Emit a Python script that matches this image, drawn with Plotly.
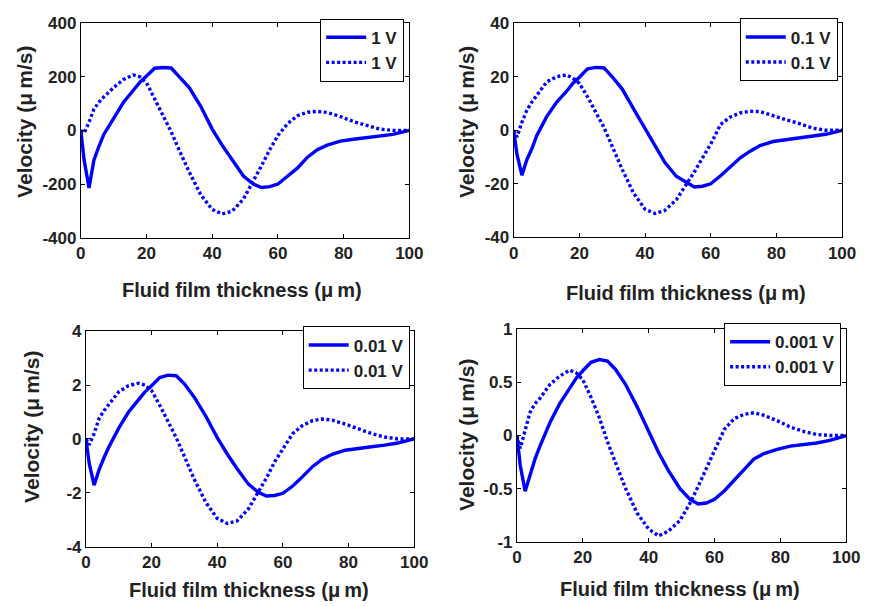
import plotly.graph_objects as go

# ---------------- data ----------------
x_um = [0, 1, 2.5, 4, 5.5, 7, 10, 13, 16, 18, 20, 22.5, 25, 27.5, 30, 33, 36.5, 40, 43, 46,
        49.5, 52.5, 55, 57.5, 60, 63, 66, 69, 72, 75, 79, 83, 87, 91, 95, 100]

solid_1V = [0, -110, -215, -110, -60, -15, 45, 105, 150, 180, 203, 232, 235, 233, 200, 160, 90, 5,
            -55, -110, -170, -200, -213, -210, -200, -170, -140, -100, -72, -55, -40, -33, -28, -22, -15, 0]
dotted_1V = [0, -10, 30, 80, 105, 125, 160, 190, 207, 200, 178, 117, 55, -5, -75, -155, -240, -295,
             -312, -302, -256, -190, -132, -72, -19, 26, 55, 68, 71, 67, 52, 33, 18, 5, 0, 0]

solid_01V = [0, -9, -16.8, -11, -7, -2, 5, 10.4, 14.4, 17.5, 19.8, 23, 23.5, 23.3, 20, 15.5, 8, 0.4,
             -6, -12, -17.2, -19.4, -21.2, -20.9, -20, -17, -13.7, -10.3, -7.8, -5.7, -4.2, -3.5, -2.9, -2.3, -1.5, 0]
dotted_01V = [0, -2.5, 3, 7.5, 10.5, 13, 18, 20, 20.7, 19.5, 17.5, 12.5, 7, 1, -6, -14.5, -23.5, -29.5,
              -31.1, -30, -26, -20.5, -15.6, -10.3, -5.2, 2.2, 5, 6.5, 7.1, 7, 5.3, 3.9, 2.5, 0.8, 0, 0]

solid_001V = [0, -0.9, -1.72, -1.15, -0.7, -0.3, 0.4, 1.0, 1.45, 1.75, 1.98, 2.28, 2.37, 2.35, 2.05, 1.55,
              0.85, 0.05, -0.55, -1.1, -1.68, -1.98, -2.12, -2.1, -2.02, -1.75, -1.4, -1.03, -0.75, -0.57,
              -0.42, -0.34, -0.29, -0.23, -0.15, 0]
dotted_001V = [0, -0.22, 0.2, 0.75, 1.05, 1.3, 1.75, 1.98, 2.07, 2.0, 1.8, 1.25, 0.65, 0.05, -0.65, -1.5,
               -2.35, -2.95, -3.14, -3.05, -2.6, -2.0, -1.45, -0.85, -0.35, 0.2, 0.5, 0.68, 0.74, 0.7,
               0.55, 0.38, 0.2, 0.07, 0.0, 0]

solid_0001V = [0, -0.28, -0.525, -0.36, -0.22, -0.1, 0.12, 0.3, 0.45, 0.54, 0.61, 0.69, 0.715, 0.7, 0.62,
               0.48, 0.27, 0.03, -0.16, -0.33, -0.5, -0.6, -0.645, -0.635, -0.6, -0.52, -0.42, -0.31,
               -0.22, -0.17, -0.13, -0.1, -0.085, -0.07, -0.045, 0]
dotted_0001V = [0, -0.12, 0.05, 0.22, 0.3, 0.35, 0.48, 0.56, 0.615, 0.59, 0.525, 0.36, 0.17, -0.06, -0.26,
                -0.5, -0.73, -0.88, -0.945, -0.9, -0.8, -0.64, -0.48, -0.3, -0.14, 0.06, 0.16, 0.2, 0.215,
                0.19, 0.14, 0.08, 0.04, 0.01, 0.0, 0]

legend_labels = ["1 V", "0.1 V", "0.01 V", "0.001 V"]

x_tickvals = [0, 20, 40, 60, 80, 100]
x_ticktext = ["0", "20", "40", "60", "80", "100"]
y_tickvals = [[-400, -200, 0, 200, 400], [-40, -20, 0, 20, 40], [-4, -2, 0, 2, 4], [-1, -0.5, 0, 0.5, 1]]
y_ticktext = [["-400", "-200", "0", "200", "400"], ["-40", "-20", "0", "20", "40"],
              ["-4", "-2", "0", "2", "4"], ["-1", "-0.5", "0", "0.5", "1"]]

x_title = "Fluid film thickness (\u03bc\u2009m)"
y_title = "Velocity (\u03bc\u2009m/s)"

solids = [solid_1V, solid_01V, solid_001V, solid_0001V]
dotteds = [dotted_1V, dotted_01V, dotted_001V, dotted_0001V]

# ---------------- layout geometry ----------------
W, H = 874, 606
# plot area boxes in pixels: left, right, top, bottom
boxes = [(77.5, 413.3, 14.7, 236.0), (520.0, 855.7, 14.7, 235.7),
         (82.7, 418.3, 332.7, 555.0), (523.3, 860.0, 330.7, 550.0)]
legend_pos = [(408.0, 10.0), (851.3, 9.7), (413.7, 327.7), (854.7, 324.3)]
xtitle_pos = [(242.5, 290), (696, 293), (249, 600), (690, 599)]
ytitle_pos = [(20, 117), (472, 117), (27, 431), (471, 440)]

FONT = "Liberation Sans"
BLUE = "#0000FF"

fig = go.Figure()
layout = dict(
    width=W, height=H, margin=dict(l=0, r=0, t=0, b=0),
    paper_bgcolor="white", plot_bgcolor="white",
    font=dict(family=FONT, color="#222222"),
    annotations=[],
)

for i in range(4):
    ax = "" if i == 0 else str(i + 1)
    leg = "legend" if i == 0 else "legend" + str(i + 1)
    fig.add_trace(go.Scatter(x=x_um, y=solids[i], mode="lines", name=legend_labels[i],
                             line=dict(color=BLUE, width=3.4), xaxis="x" + ax, yaxis="y" + ax,
                             legend=leg))
    fig.add_trace(go.Scatter(x=x_um, y=dotteds[i], mode="lines", name=legend_labels[i],
                             line=dict(color=BLUE, width=3.4, dash="3px,2.5px"),
                             xaxis="x" + ax, yaxis="y" + ax, legend=leg))
    l, r, t, b = boxes[i]
    yr = [y_tickvals[i][0], y_tickvals[i][-1]]
    layout["xaxis" + ax] = dict(
        domain=[l / W, r / W], anchor="y" + ax, range=[0, 100],
        tickvals=x_tickvals, ticktext=x_ticktext, ticks="inside", ticklen=4,
        tickcolor="black", showline=True, linecolor="black", linewidth=1, mirror="ticks",
        showgrid=False, zeroline=False,
        tickfont=dict(family=FONT, size=17, weight="bold", color="#222222"),
    )
    layout["yaxis" + ax] = dict(
        domain=[1 - b / H, 1 - t / H], anchor="x" + ax, range=yr,
        tickvals=y_tickvals[i], ticktext=y_ticktext[i], ticks="inside", ticklen=4,
        tickcolor="black", showline=True, linecolor="black", linewidth=1, mirror="ticks",
        showgrid=False, zeroline=False,
        tickfont=dict(family=FONT, size=17, weight="bold", color="#222222"),
    )
    lx, ly = legend_pos[i]
    layout[leg] = dict(
        x=lx / W, y=1 - ly / H, xanchor="right", yanchor="top", xref="paper", yref="paper",
        bgcolor="white", bordercolor="black", borderwidth=1, itemwidth=40,
        font=dict(family=FONT, size=17, weight="bold", color="#222222"),
        tracegroupgap=0,
    )
    tx, ty = xtitle_pos[i]
    layout["annotations"].append(dict(
        text=x_title, x=tx / W, y=1 - ty / H, xref="paper", yref="paper",
        xanchor="center", yanchor="middle", showarrow=False,
        font=dict(family=FONT, size=20, weight="bold", color="#222222")))
    vx, vy = ytitle_pos[i]
    layout["annotations"].append(dict(
        text=y_title, x=vx / W, y=1 - vy / H, xref="paper", yref="paper",
        xanchor="center", yanchor="middle", showarrow=False, textangle=-90,
        font=dict(family=FONT, size=21, weight="bold", color="#222222")))

fig.update_layout(**layout)
fig.write_html("out.html")
